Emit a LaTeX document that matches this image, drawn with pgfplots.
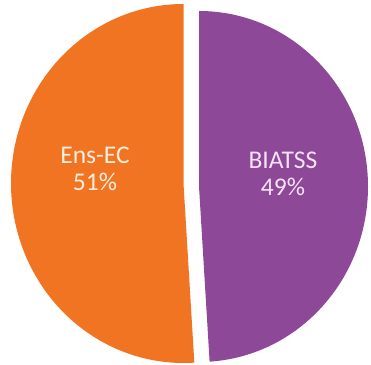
\documentclass[border=0pt]{standalone}
\usepackage{pgfplots}
\pgfplotsset{compat=1.18}
\usepackage{fontspec}
\setmainfont{Carlito}
\definecolor{ensorange}{RGB}{240,116,34}
\definecolor{biapurple}{RGB}{142,72,152}
\definecolor{lblA}{RGB}{252,238,222}
\definecolor{lblB}{RGB}{246,228,246}
\begin{document}
\begin{tikzpicture}
\pgfmathsetmacro{\ens}{51}
\pgfmathsetmacro{\bia}{49}
\pgfmathsetmacro{\endA}{90+3.6*\ens}
\pgfmathsetmacro{\endB}{90-3.6*\bia}
\begin{axis}[width=371pt,height=364pt,scale only axis,
  xmin=0,xmax=371,ymin=0,ymax=364,hide axis,clip=false]
\path (axis cs:0,0) rectangle (axis cs:371,364);
\fill[ensorange] (axis cs:183.5,360) arc[start angle=90,end angle=\endA,x radius=172.5pt,y radius=179.5pt] -- (axis cs:183.5,180.5) -- cycle;
\fill[biapurple] (axis cs:199,353) arc[start angle=90,end angle=\endB,x radius=169pt,y radius=175.5pt] -- (axis cs:199,177.5) -- cycle;
\node[text=lblA,align=center,font=\fontsize{25.5}{27}\selectfont] at (axis cs:95,195) {Ens-EC\\51\%};
\node[text=lblB,align=center,font=\fontsize{25.5}{27}\selectfont] at (axis cs:283,190.5) {BIATSS\\49\%};
\end{axis}
\end{tikzpicture}
\end{document}
